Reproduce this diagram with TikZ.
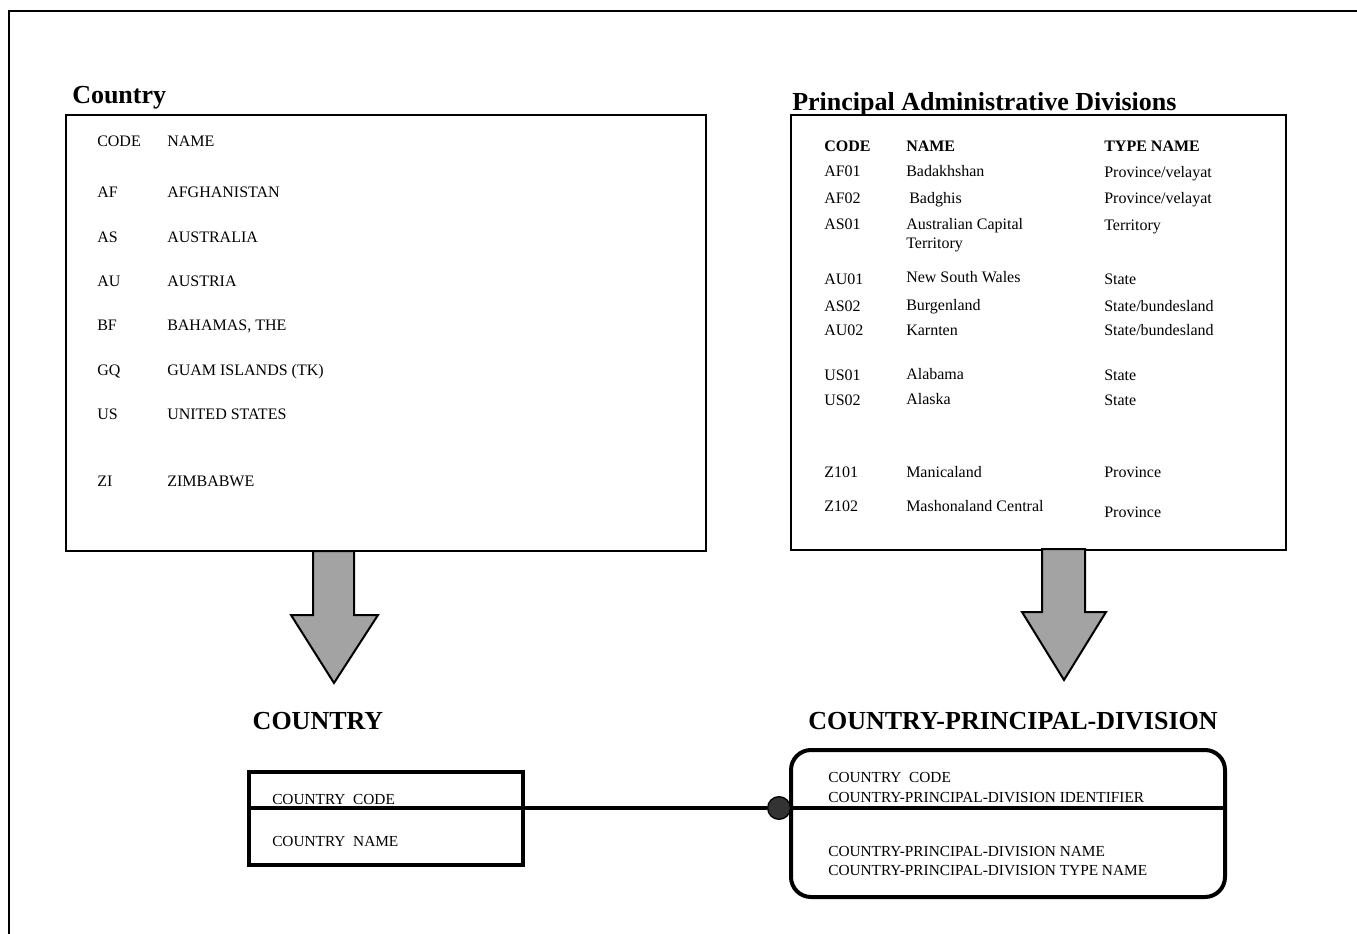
\documentclass[tikz,border=0pt]{standalone}
\usepackage{fontspec}
\setmainfont{Liberation Serif}
\begin{document}
\begin{tikzpicture}[x=0.75pt,y=-0.75pt,
  frame/.style={line width=1.9pt},
  tablebox/.style={draw, line width=1.5pt, fill=white},
  title/.style={font=\fontsize{19.5}{22}\selectfont\bfseries, inner sep=0pt, anchor=base west},
  heading/.style={font=\fontsize{19.5}{22}\selectfont\bfseries, inner sep=0pt, anchor=base},
  cell/.style={font=\fontsize{12}{14}\selectfont, inner sep=0pt, anchor=base west},
  hcell/.style={cell, font=\fontsize{12}{14}\selectfont\bfseries},
  attr/.style={font=\fontsize{11.5}{13}\selectfont, inner sep=0pt, anchor=base west},
  blockarrow/.style={draw, line width=1.5pt, fill=black!36, line join=miter},
  erd/.style={draw, line width=3pt},
  rel/.style={line width=2.4pt}]

\useasboundingbox (0,0) rectangle (1357,934);

% page frame (left and top edges)
\draw[frame] (9,934) -- (9,11) -- (1357,11);

% ---------------- Country table ----------------
\node[title] (ttlA) at (72,104) {Country};
\draw[tablebox] (66,115) rectangle (706,551);

\node[cell] (a0c) at (97,147) {CODE};
\node[cell] (a0n) at (167,147) {NAME};
\node[cell] (a1c) at (97,198) {AF};
\node[cell] (a1n) at (167,198) {AFGHANISTAN};
\node[cell] (a2c) at (97,243) {AS};
\node[cell] (a2n) at (167,243) {AUSTRALIA};
\node[cell] (a3c) at (97,287) {AU};
\node[cell] (a3n) at (167,287) {AUSTRIA};
\node[cell] (a4c) at (97,331) {BF};
\node[cell] (a4n) at (167,331) {BAHAMAS, THE};
\node[cell] (a5c) at (97,375) {GQ};
\node[cell] (a5n) at (167,375) {GUAM ISLANDS (TK)};
\node[cell] (a6c) at (97,419) {US};
\node[cell] (a6n) at (167,419) {UNITED STATES};
\node[cell] (a7c) at (97,486) {ZI};
\node[cell] (a7n) at (167,486) {ZIMBABWE};

% ---------------- Divisions table ----------------
% the white table box is drawn after the title and trims its descenders
\node[title] (ttlB) at (792,111) {Principal Administrative Divisions};
\draw[tablebox] (791,115) rectangle (1286,550);

\node[hcell] (b0c) at (824,152) {CODE};
\node[hcell] (b0n) at (906,152) {NAME};
\node[hcell] (b0t) at (1104,152) {TYPE NAME};

\node[cell] (b1c) at (824,177) {AF01};
\node[cell] (b1n) at (906,177) {Badakhshan};
\node[cell] (b1t) at (1104,178) {Province/velayat};
\node[cell] (b2c) at (824,204) {AF02};
\node[cell] (b2n) at (909,204) {Badghis};
\node[cell] (b2t) at (1104,204) {Province/velayat};
\node[cell] (b3c) at (824,230) {AS01};
\node[cell] (b3n) at (906,230) {Australian Capital};
\node[cell] (b3m) at (906,249) {Territory};
\node[cell] (b3t) at (1104,231) {Territory};
\node[cell] (b4c) at (824,285) {AU01};
\node[cell] (b4n) at (906,283) {New South Wales};
\node[cell] (b4t) at (1104,285) {State};
\node[cell] (b5c) at (824,312) {AS02};
\node[cell] (b5n) at (906,311) {Burgenland};
\node[cell] (b5t) at (1104,312) {State/bundesland};
\node[cell] (b6c) at (824,336) {AU02};
\node[cell] (b6n) at (906,336) {Karnten};
\node[cell] (b6t) at (1104,336) {State/bundesland};
\node[cell] (b7c) at (824,381) {US01};
\node[cell] (b7n) at (906,379) {Alabama};
\node[cell] (b7t) at (1104,381) {State};
\node[cell] (b8c) at (824,406) {US02};
\node[cell] (b8n) at (906,404) {Alaska};
\node[cell] (b8t) at (1104,406) {State};
\node[cell] (b9c) at (824,477) {Z101};
\node[cell] (b9n) at (906,477) {Manicaland};
\node[cell] (b9t) at (1104,477) {Province};
\node[cell] (b10c) at (824,511) {Z102};
\node[cell] (b10n) at (906,511) {Mashonaland Central};
\node[cell] (b10t) at (1104,517) {Province};

% ---------------- block arrows ----------------
\draw[blockarrow] (313,551) -- (354,551) -- (354,615) -- (378,615)
  -- (334,683) -- (291,615) -- (313,615) -- cycle;
\draw[blockarrow] (1042,549) -- (1085,549) -- (1085,612) -- (1106,612)
  -- (1064,680) -- (1022,612) -- (1042,612) -- cycle;

% ---------------- entity headings ----------------
\node[heading] (hdA) at (318,729) {COUNTRY};
\node[heading] (hdB) at (1013,729) {COUNTRY-PRINCIPAL-DIVISION};

% ---------------- COUNTRY entity ----------------
\draw[erd] (249,772) rectangle (523,865);
\draw[erd] (249,808) -- (523,808);
\coordinate (entA) at (523,808);
\node[attr] (eA1) at (272,804) {COUNTRY\ \ CODE};
\node[attr] (eA2) at (272,846) {COUNTRY\ \ NAME};

% ---------------- COUNTRY-PRINCIPAL-DIVISION entity ----------------
\draw[erd, rounded corners=15pt] (791,750) rectangle (1225,897);
\draw[erd] (791,808) -- (1225,808);
\node[attr] (eB1) at (828,782) {COUNTRY\ \ CODE};
\node[attr] (eB2) at (828,802) {COUNTRY-PRINCIPAL-DIVISION IDENTIFIER};
\node[attr] (eB3) at (828,856) {COUNTRY-PRINCIPAL-DIVISION NAME};
\node[attr] (eB4) at (828,875) {COUNTRY-PRINCIPAL-DIVISION TYPE NAME};

% ---------------- relationship ----------------
\node[circle, draw=black, line width=1pt, fill=black!80, minimum size=17pt, inner sep=0pt] (joint) at (779,808) {};
\draw[rel] (entA) -- (joint.west);
\end{tikzpicture}
\end{document}
